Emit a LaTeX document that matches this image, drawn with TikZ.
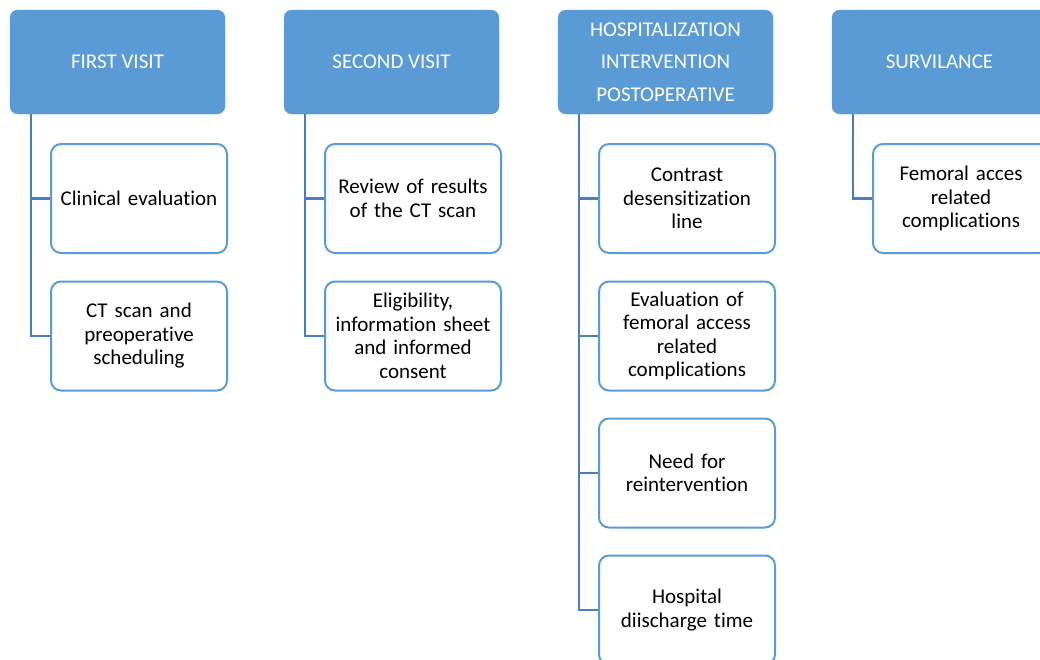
\documentclass[tikz,border=0pt]{standalone}
\usepackage{fontspec}
\setmainfont{Carlito}[Ligatures={NoCommon}]
\definecolor{headblue}{HTML}{5B9BD5}
\definecolor{linkblue}{HTML}{4A7EBB}
\tikzset{
  x=1pt, y=-1pt,
  head/.style={fill=headblue, draw=headblue, rounded corners=8pt, minimum width=215pt, minimum height=104pt, inner sep=0pt, text=white, align=center, font=\fontsize{21}{32.5}\selectfont},
  item/.style={fill=white, draw=headblue, line width=2pt, rounded corners=10pt, minimum width=176pt, minimum height=109pt, inner sep=0pt, text width=168pt, align=center, font=\fontsize{21}{23.5}\selectfont},
  conn/.style={draw=linkblue, line width=2.4pt}
}
\begin{document}
\begin{tikzpicture}
\useasboundingbox (0,0) rectangle (1040,659);
\clip (0,0) rectangle (1040,659);
% headers
\node[head] (h1) at (117.5,62) {FIRST VISIT};
\node[head] (h2) at (391.5,62) {SECOND VISIT};
\node[head] (h3) at (665.5,62) {HOSPITALIZATION\\INTERVENTION\\POSTOPERATIVE};
\node[head] (h4) at (939.5,62) {SURVILANCE};
% column 1
\node[item] (c11) at (139,198.5) {Clinical evaluation};
\node[item] (c12) at (139,336) {CT scan and\\preoperative\\scheduling};
% column 2
\node[item] (c21) at (413,198.5) {Review of results\\of the CT scan};
\node[item] (c22) at (413,336) {Eligibility,\\information sheet\\and informed\\consent};
% column 3
\node[item] (c31) at (687,198.5) {Contrast\\desensitization\\line};
\node[item] (c32) at (687,336) {Evaluation of\\femoral access\\related\\complications};
\node[item] (c33) at (687,473) {Need for\\reintervention};
\node[item] (c34) at (687,610) {Hospital\\diischarge time};
% column 4
\node[item] (c41) at (961,198.5) {Femoral acces\\related\\complications};
% connectors
\coordinate (t1) at (31,114);
\coordinate (t2) at (305,114);
\coordinate (t3) at (579,114);
\coordinate (t4) at (853,114);
\draw[conn] (t1) |- (c12.west);
\draw[conn] (t1) |- (c11.west);
\draw[conn] (t2) |- (c22.west);
\draw[conn] (t2) |- (c21.west);
\draw[conn] (t3) |- (c34.west);
\draw[conn] (t3) |- (c33.west);
\draw[conn] (t3) |- (c32.west);
\draw[conn] (t3) |- (c31.west);
\draw[conn] (t4) |- (c41.west);
\end{tikzpicture}
\end{document}
